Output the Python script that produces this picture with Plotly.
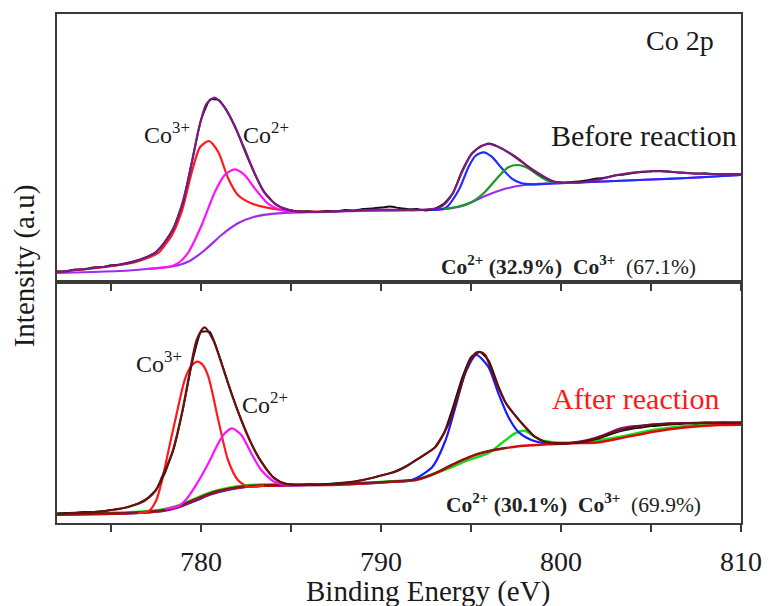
import plotly.graph_objects as go

FONT = "'Liberation Serif', Tinos, 'Times New Roman', Times, 'DejaVu Serif', serif"

# ---------------- TOP PANEL (Before reaction) ----------------
raw_top_x = [772.0, 772.5, 773.0, 773.5, 774.0, 774.5, 775.0, 775.5, 776.0, 776.5, 777.0, 777.5, 778.0, 778.5,
             779.0, 779.5, 780.0, 780.5, 781.0, 781.5, 782.0, 782.5, 783.0, 783.5, 784.0, 784.5, 785.0, 785.5,
             786.0, 786.5, 787.0, 787.5, 788.0, 788.5, 789.0, 789.5, 790.0, 790.5, 791.0, 791.5, 792.0, 792.5,
             793.0, 793.5, 794.0, 794.5, 795.0, 795.5, 796.0, 796.5, 797.0, 797.5, 798.0, 798.5, 799.0, 799.5,
             800.0, 800.5, 801.0, 801.5, 802.0, 802.5, 803.0, 803.5, 804.0, 804.5, 805.0, 805.5, 806.0, 806.5,
             807.0, 807.5, 808.0, 808.5, 809.0, 809.5, 810.0]
raw_top_y = [10.8, 10.6, 12.6, 12.6, 14.6, 15.0, 16.8, 17.6, 19.6, 21.9, 25.2, 30.0, 40.5, 55.0,
             80.0, 121.0, 162.0, 182.5, 182.0, 169.0, 150.5, 128.0, 107.5, 90.5, 80.0, 74.0, 71.5, 70.5,
             70.8, 69.8, 71.2, 70.5, 72.0, 71.5, 73.0, 73.5, 74.5, 75.5, 74.0, 72.8, 73.0, 71.5,
             73.5, 78.5, 89.0, 111.0, 127.5, 135.5, 138.5, 135.5, 130.5, 125.0, 118.0, 111.0, 105.5, 101.0,
             99.5, 99.8, 100.5, 101.8, 103.5, 104.5, 106.5, 107.5, 109.0, 110.0, 110.5, 111.0, 110.5, 109.5,
             109.2, 108.5, 108.8, 108.0, 108.2, 108.0, 108.0]

env_top_x = [772.0, 773.0, 774.0, 775.0, 776.0, 776.5, 777.0, 777.5, 778.0, 778.4, 778.9, 779.2, 779.5, 779.9,
             780.3, 780.75, 781.3, 781.85, 782.4, 782.95, 783.5, 784.2, 785.2, 786.5, 788.0, 790.0, 792.0,
             793.2, 793.6, 794.0, 794.5, 795.05, 795.6, 796.0, 796.7, 797.45, 798.2, 798.9, 799.6, 800.7,
             802.0, 803.1, 804.0, 805.1, 806.2, 807.3, 808.5, 810.0]
env_top_y = [10, 12, 14, 16, 19, 21.5, 25, 30, 40, 51, 75, 95, 120, 155,
             178, 184.5, 175, 157, 134, 110, 90, 77, 71, 70, 71, 72.5, 72,
             74, 79, 89, 110, 128.5, 136, 138, 133.5, 125, 115, 107, 100.5, 99.3,
             102, 107, 109.5, 111, 110, 108.5, 108, 108]

co3_top_x = [772.0, 774.0, 776.0, 776.56, 777.1, 777.66, 778.0, 778.39, 778.94, 779.49, 779.95, 780.44,
             780.96, 781.5, 782.05, 782.79, 783.88, 785.2, 787.0]
co3_top_y = [10, 13.5, 18.5, 21, 24.5, 29.5, 37, 47, 71, 110, 135, 141, 130, 104, 87, 78.7, 73.7, 71, 70.5]

co2_top_x = [777.0, 777.8, 778.4, 778.85, 779.31, 780.04, 780.77, 781.32, 781.87, 782.42, 782.97,
             783.7, 784.43, 785.3, 787.0]
co2_top_y = [13, 14.4, 16, 20.5, 30, 57, 90, 107, 112.7, 107, 94, 78.7, 72, 70, 70]

bg_top_x = [772.0, 774.0, 776.0, 777.0, 778.4, 779.31, 780.22, 781.14, 782.05, 782.97, 784.25, 786.0, 789.0,
            792.5, 793.6, 794.69, 795.79, 796.89, 797.99, 799.5, 801.0, 803.0, 805.0, 807.0, 808.5, 810.0]
bg_top_y = [9, 10, 11.5, 13, 15.5, 20.5, 32, 47, 58.7, 65.3, 68.7, 70, 71,
            72, 73, 77, 86, 93.2, 97, 98.5, 99.5, 101, 102.5, 104, 105.5, 107]

blue_top_x = [792.5, 793.59, 794.32, 794.87, 795.24, 795.7, 796.15, 796.71, 797.25, 797.81, 798.4, 799.5,
              801.0, 803.0, 805.0, 807.0, 810.0]
blue_top_y = [72, 74, 92, 115.3, 126, 129.7, 125.3, 113.7, 103.7, 98.7, 97.7, 98.5,
              99.5, 101, 102.5, 104, 107]

green_top_x = [793.5, 794.3, 795.06, 795.79, 796.52, 797.07, 797.62, 798.17, 798.72, 799.27, 800.0, 801.0]
green_top_y = [73, 75.5, 80.3, 90.3, 105.3, 114.7, 117, 113.7, 107, 101.3, 99.3, 99.5]

# ---------------- BOTTOM PANEL (After reaction) ----------------
raw_bot_x = raw_top_x
raw_bot_y = [9.5, 10.0, 10.3, 11.0, 11.0, 11.8, 13.0, 14.2, 16.5, 19.5, 24.5, 33.0, 50.0, 75.0,
             114.0, 160.0, 191.0, 191.0, 168.0, 140.0, 114.0, 91.0, 72.0, 57.5, 46.0, 40.5, 38.5, 38.0,
             38.8, 38.2, 39.0, 39.8, 40.5, 41.5, 43.2, 45.0, 47.5, 50.0, 53.5, 58.0, 63.5, 69.0,
             76.0, 90.0, 116.0, 145.0, 166.0, 171.0, 162.0, 138.0, 118.0, 106.5, 96.5, 87.0, 82.0, 80.0,
             79.5, 80.0, 80.5, 82.0, 84.0, 87.0, 90.0, 92.5, 94.5, 95.5, 96.8, 97.5, 98.5, 98.8,
             99.6, 99.5, 100.3, 100.2, 100.5, 100.3, 100.4]

env_bot_x = [772.0, 773.0, 774.4, 775.2, 776.01, 776.93, 777.5, 777.84, 778.39, 778.94, 779.4, 779.76,
             780.19, 780.68, 781.14, 781.69, 782.24, 782.79, 783.34, 784.07, 784.8, 786.3, 788.1, 789.0,
             789.75, 790.8, 791.4, 791.95, 792.5, 793.04, 793.77, 794.32, 794.87, 795.3, 795.55, 795.79,
             796.34, 796.89, 797.44, 797.99, 798.54, 799.09, 800.19, 801.2, 802.0, 802.9, 804.2, 806.0,
             808.0, 810.0]
env_bot_y = [9, 10, 11.3, 13.5, 16.3, 23, 33, 46.3, 69.7, 109.7, 153, 183,
             195.7, 183, 159.7, 129.7, 103, 79.7, 61.3, 44.7, 38.7, 38.5, 40, 43,
             46.3, 51.3, 56.5, 63, 69.3, 76.3, 99.7, 129.7, 159.7, 170.5, 171, 168,
             143, 121.3, 108, 96.3, 86.3, 81.3, 79.7, 81.5, 85, 91, 96.5, 99.5,
             100.2, 100.3]

co3_bot_x = [776.5, 777.1, 777.5, 777.84, 778.2, 778.57, 779.12, 779.5, 779.8, 780.1, 780.41, 780.96,
             781.5, 782.05, 782.6, 783.5]
co3_bot_y = [10, 12, 22, 43, 73, 103, 144.7, 158, 161.3, 158, 146.3, 103, 63, 43, 36.3, 37.3]

co2_bot_x = [778.0, 778.75, 779.2, 779.67, 780.41, 780.96, 781.32, 781.73, 782.24, 782.79, 783.34, 784.07,
             784.8, 786.0]
co2_bot_y = [14, 17, 24, 36.3, 59.7, 79.7, 89.7, 94.7, 88, 69.7, 53, 41.3, 38, 38]

bg_bot_x = [772.0, 774.0, 776.01, 777.84, 778.75, 779.67, 780.59, 781.5, 782.42, 783.34, 785.0, 787.0,
            789.0, 790.5, 791.95, 793.04, 794.14, 795.24, 796.34, 797.44, 799.27, 800.7, 802.0, 803.3,
            805.13, 806.96, 808.8, 810.0]
bg_bot_y = [8.3, 9, 9.7, 12.3, 16.3, 23, 29.7, 33.7, 36.3, 37.3, 37.8, 38,
            39.5, 41, 43, 49.7, 59.7, 68, 73, 76.3, 78.7, 79.7, 80.5, 84.7,
            91.3, 95.7, 98, 98.3]

bgdark_bot_x = [772.0, 774.0, 776.01, 777.84, 778.75, 779.67, 780.59, 781.5, 782.42, 783.34, 785.0,
                787.0, 789.0, 790.5, 791.95, 793.04, 794.14, 795.24, 796.34, 797.0]
bgdark_bot_y = [8.8, 9.5, 10.2, 12.8, 16.8, 23.7, 30.3, 34.2, 36.8, 37.8, 38.2,
                38.4, 39.9, 41.4, 43.4, 50.2, 60.2, 68.4, 73.4, 75.2]

blue_bot_x = [772.0, 776.0, 777.84, 778.75, 779.67, 780.59, 781.5, 782.42, 783.34, 785.0, 788.0, 790.5,
              791.5, 791.95, 792.86, 793.59, 794.14, 794.68, 795.3, 795.96, 796.52, 797.07, 797.62,
              798.35, 799.2, 800.5]
blue_bot_y = [8, 9.5, 11.8, 15.5, 22, 28.7, 33, 35.8, 37, 37.6, 38.5, 41,
              42, 44.7, 56.3, 83, 116.3, 149.7, 168, 156.3, 129.7, 106.3, 91.3,
              83, 79.7, 79.7]

green_bot_x = [772.0, 774.0, 776.01, 777.84, 778.75, 779.67, 780.59, 781.5, 782.42, 783.34, 785.0, 787.0,
               789.0, 790.5, 791.95, 793.04, 793.77, 794.87, 795.96, 796.7, 797.44, 797.99, 798.54,
               799.09, 800.0, 801.5, 803.3, 805.13, 806.96, 810.0]
green_bot_y = [9.3, 10, 10.7, 13.5, 17.5, 24.5, 31, 35, 37.5, 38.5, 38.8, 38.8,
               40.2, 41.7, 43.4, 50, 54.7, 63, 69.7, 79.7, 89.7, 92.3, 86.3,
               82, 80.3, 81.3, 86.3, 93, 97, 100]

sat_bot_x = [800.5, 801.47, 802.38, 803.3, 804.21, 806.04, 807.88, 810.0]
sat_bot_y = [80, 83, 88, 94.7, 97, 99.7, 100.3, 100.4]

# ---------------- TEXT ----------------
x_tick_vals = [775, 780, 785, 790, 795, 800, 805, 810]
x_tick_text = ["", "780", "", "790", "", "800", "", "810"]

fig = go.Figure()


def add_line(x, y, color, width, xa, ya, smoothing=0.7):
    fig.add_trace(go.Scatter(x=x, y=y, mode="lines", xaxis=xa, yaxis=ya, hoverinfo="skip", showlegend=False,
                             line=dict(color=color, width=width, shape="spline", smoothing=smoothing)))


# top panel traces
add_line(bg_top_x, bg_top_y, "#9b2cf0", 2.2, "x2", "y2")
add_line(blue_top_x, blue_top_y, "#1f2cff", 2.2, "x2", "y2")
add_line(green_top_x, green_top_y, "#1c9a1c", 2.2, "x2", "y2")
add_line(co3_top_x, co3_top_y, "#ff1a1a", 2.2, "x2", "y2")
add_line(co2_top_x, co2_top_y, "#ff10ff", 2.2, "x2", "y2")
add_line(raw_top_x, raw_top_y, "#111111", 1.8, "x2", "y2", smoothing=0.4)
add_line(env_top_x, env_top_y, "#7d1a82", 2.2, "x2", "y2")

# bottom panel traces
add_line(green_bot_x, green_bot_y, "#10e010", 2.4, "x", "y")
add_line(blue_bot_x, blue_bot_y, "#1a1aff", 2.2, "x", "y")
add_line(bg_bot_x, bg_bot_y, "#dc0a0a", 2.4, "x", "y")
add_line(bgdark_bot_x, bgdark_bot_y, "#7a1a1a", 2.0, "x", "y")
add_line(co3_bot_x, co3_bot_y, "#ff1a1a", 2.2, "x", "y")
add_line(co2_bot_x, co2_bot_y, "#ff10ff", 2.2, "x", "y")
add_line(sat_bot_x, sat_bot_y, "#8a1a8a", 2.2, "x", "y")
add_line(raw_bot_x, raw_bot_y, "#111111", 1.8, "x", "y", smoothing=0.4)
add_line(env_bot_x, env_bot_y, "#6e0f0f", 2.2, "x", "y")

axis_common = dict(showline=True, mirror=True, linecolor="#3a3a3a", linewidth=2, showgrid=False,
                   zeroline=False)

split = 241 / 509

fig.update_layout(
    width=774, height=606,
    margin=dict(l=57, r=26, t=14, b=83),
    paper_bgcolor="white", plot_bgcolor="white",
    showlegend=False,
    font=dict(family=FONT, color="#1a1a1a"),
    xaxis=dict(domain=[0, 1], anchor="y", range=[772, 810], tickvals=x_tick_vals, ticktext=x_tick_text,
               ticks="outside", ticklen=7, tickwidth=2, tickcolor="#3a3a3a", ticklabelstandoff=5,
               tickfont=dict(family=FONT, size=28, color="#1a1a1a"), **axis_common),
    yaxis=dict(domain=[0, split], anchor="x", range=[0, 241], showticklabels=False, ticks="",
               **axis_common),
    xaxis2=dict(domain=[0, 1], anchor="y2", range=[772, 810], matches="x", tickvals=x_tick_vals,
                ticktext=x_tick_text, showticklabels=False, ticks="outside", ticklen=7, tickwidth=2,
                tickcolor="#3a3a3a", **axis_common),
    yaxis2=dict(domain=[split, 1], anchor="x2", range=[0, 268], showticklabels=False, ticks="",
                **axis_common),
)

ann = []
ann.append(dict(text="Co 2p", x=806.6, y=242, xref="x2", yref="y2", showarrow=False,
                font=dict(family=FONT, size=28, color="#1a1a1a"), xanchor="center", yanchor="middle"))
ann.append(dict(text="Before reaction", x=804.6, y=147, xref="x2", yref="y2", showarrow=False,
                font=dict(family=FONT, size=30, color="#1a1a1a"), xanchor="center", yanchor="middle"))
ann.append(dict(text="Co<sup>3+</sup>", x=778.1, y=149, xref="x2", yref="y2", showarrow=False,
                font=dict(family=FONT, size=24, color="#1a1a1a"), xanchor="center", yanchor="middle"))
ann.append(dict(text="Co<sup>2+</sup>", x=783.63, y=149, xref="x2", yref="y2", showarrow=False,
                font=dict(family=FONT, size=24, color="#1a1a1a"), xanchor="center", yanchor="middle"))
ann.append(dict(text="<b>Co<sup>2+</sup> (32.9%)</b>&#160;&#160;<b>Co<sup>3+</sup></b>&#160;&#160;(67.1%)",
                x=800.4, y=17, xref="x2", yref="y2", showarrow=False,
                font=dict(family=FONT, size=21.5, color="#222222"), xanchor="center", yanchor="middle"))
ann.append(dict(text="Co<sup>3+</sup>", x=777.69, y=161, xref="x", yref="y", showarrow=False,
                font=dict(family=FONT, size=24, color="#1a1a1a"), xanchor="center", yanchor="middle"))
ann.append(dict(text="Co<sup>2+</sup>", x=783.58, y=120, xref="x", yref="y", showarrow=False,
                font=dict(family=FONT, size=24, color="#1a1a1a"), xanchor="center", yanchor="middle"))
ann.append(dict(text="After reaction", x=804.15, y=125, xref="x", yref="y", showarrow=False,
                font=dict(family=FONT, size=30, color="#ff1a1a"), xanchor="center", yanchor="middle"))
ann.append(dict(text="<b>Co<sup>2+</sup> (30.1%)</b>&#160;&#160;<b>Co<sup>3+</sup></b>&#160;&#160;(69.9%)",
                x=800.7, y=20, xref="x", yref="y", showarrow=False,
                font=dict(family=FONT, size=21.5, color="#222222"), xanchor="center", yanchor="middle"))
ann.append(dict(text="Binding Energy (eV)", x=(432 - 57) / 691, y=(523 - 591.5) / 509, xref="paper",
                yref="paper", showarrow=False, font=dict(family=FONT, size=29, color="#1a1a1a"),
                xanchor="center", yanchor="middle"))
ann.append(dict(text="Intensity (a.u)", x=(24 - 57) / 691, y=(523 - 266) / 509, xref="paper",
                yref="paper", showarrow=False, textangle=-90, font=dict(family=FONT, size=29, color="#1a1a1a"),
                xanchor="center", yanchor="middle"))
fig.update_layout(annotations=ann)

fig.write_html("out.html")
